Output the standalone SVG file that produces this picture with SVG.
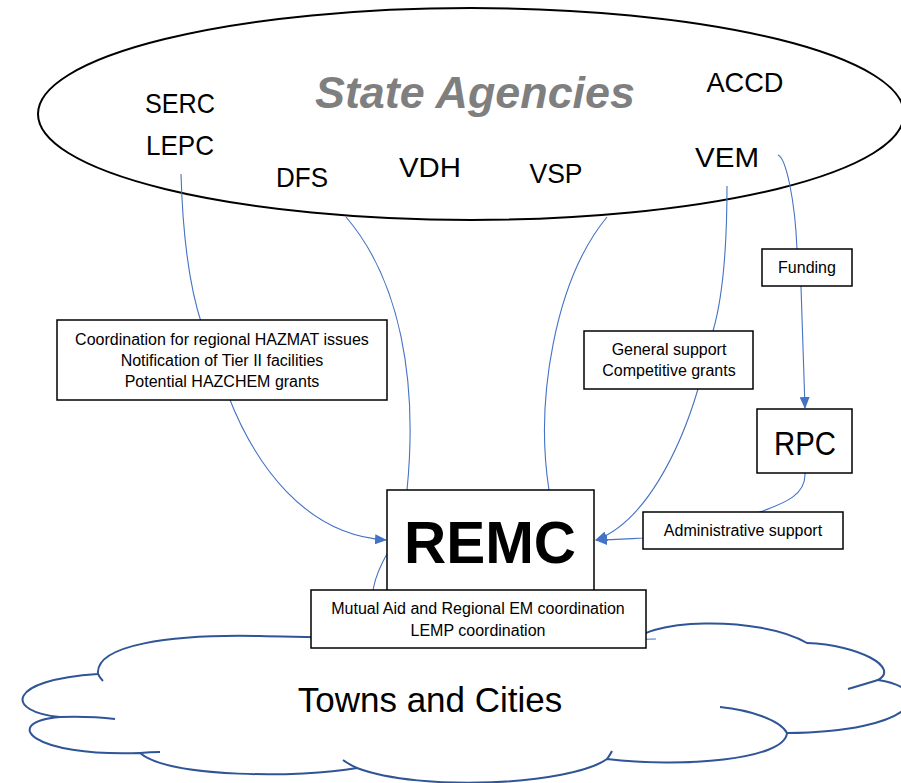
<svg xmlns="http://www.w3.org/2000/svg" width="901" height="783" viewBox="0 0 901 783">
<defs>
<marker id="arr" viewBox="0 0 12 10" refX="11" refY="5" markerWidth="12" markerHeight="10" markerUnits="userSpaceOnUse" orient="auto">
<path d="M0,0 L12,5 L0,10 Z" fill="#4472c4"/>
</marker>
<style>
.conn{fill:none;stroke:#4472c4;stroke-width:1.1}
.box{fill:#fff;stroke:#000;stroke-width:1.5}
.t{font-family:"Liberation Sans",Arial,sans-serif;fill:#000;text-anchor:middle}
.s{font-size:16px}
.lab{font-size:28px}
.cloud{fill:none;stroke:#2f5597;stroke-width:2}
</style>
</defs>
<rect width="901" height="783" fill="#fff"/>

<g id="state-agencies">
<ellipse cx="471" cy="114" rx="433" ry="106" fill="#fff" stroke="#000" stroke-width="2"/>
<text class="t" x="475" y="108" font-size="45" font-weight="bold" font-style="italic" style="fill:#7f7f7f" textLength="320" lengthAdjust="spacingAndGlyphs">State Agencies</text>
<text class="t lab" x="180" y="113" textLength="70" lengthAdjust="spacingAndGlyphs">SERC</text>
<text class="t lab" x="180" y="155" textLength="68" lengthAdjust="spacingAndGlyphs">LEPC</text>
<text class="t lab" x="302" y="187" textLength="52" lengthAdjust="spacingAndGlyphs">DFS</text>
<text class="t lab" x="430" y="177" textLength="62" lengthAdjust="spacingAndGlyphs">VDH</text>
<text class="t lab" x="556" y="183" textLength="53" lengthAdjust="spacingAndGlyphs">VSP</text>
<text class="t lab" x="745" y="92" textLength="77" lengthAdjust="spacingAndGlyphs">ACCD</text>
<text class="t lab" x="727" y="167" textLength="64" lengthAdjust="spacingAndGlyphs">VEM</text>
</g>

<g id="towns-and-cities">
<path fill="#fff" stroke="none" d="M60,717 C5,712 5,680 98,674 C95,645 170,634 260,636 C330,638 560,640 630,646 C640,618 760,615 807,643 C860,645 900,668 878,680 C940,690 915,732 787,733 C785,760 680,768 607,759 C570,785 420,792 357,768 C300,778 170,778 140,753 C30,757 0,722 60,717 Z"/>
<path class="cloud" d="M60,717 C5,712 5,680 98,674 C95,645 170,634 260,636 C330,638 560,640 630,646 C640,618 760,615 807,643 C860,645 900,668 878,680 C940,690 915,732 787,733 C785,760 680,768 607,759 C570,785 420,792 357,768 C300,778 170,778 140,753 C30,757 0,722 60,717 Z"/>
<path class="cloud" d="M98,674 Q100,678 103,681 M878,680 Q865,684 848,689 M720,707 C750,710 780,720 787,733 M607,759 Q610,755 612,751 M357,768 Q350,765 343,760 M140,753 Q150,752 160,752 M60,717 Q90,716 115,719"/>
<text class="t" x="430" y="712" font-size="35">Towns and Cities</text>
</g>

<g id="connectors">
<path class="conn" d="M181,174 C183,245 192,295 202,325 L228,395 C255,465 305,535 386,540" marker-end="url(#arr)"/>
<path class="conn" d="M346,217 C400,280 418,380 407,490"/>
<path class="conn" d="M607,217 C555,280 535,400 549,490"/>
<path class="conn" d="M727,186 C727,250 722,300 713,331 L698,389 C680,450 645,522 596,540" marker-end="url(#arr)"/>
<path class="conn" d="M778,155 C786,158 795,200 797,249 L801,287 L805,408" marker-end="url(#arr)"/>
<path class="conn" d="M805,473 C806,495 785,503 760,512 L660,535 L643,538 C625,539 612,540 596,540" marker-end="url(#arr)"/>
<path class="conn" d="M388,552 C375,575 365,600 380,625 C420,650 600,640 656,639"/>
</g>

<g id="hazmat-label">
<rect class="box" x="57" y="320" width="330" height="80"/>
<text class="t s" x="222" y="345">Coordination for regional HAZMAT issues</text>
<text class="t s" x="222" y="366">Notification of Tier II facilities</text>
<text class="t s" x="222" y="387">Potential HAZCHEM grants</text>
</g>

<g id="remc">
<rect class="box" x="387" y="490" width="207" height="104"/>
<text class="t" x="490" y="563" font-size="60" font-weight="bold" textLength="172" lengthAdjust="spacingAndGlyphs">REMC</text>
</g>

<g id="mutual-aid-label">
<rect class="box" x="311" y="590" width="335" height="58"/>
<text class="t s" x="478" y="614">Mutual Aid and Regional EM coordination</text>
<text class="t s" x="478" y="636">LEMP coordination</text>
</g>

<g id="general-support-label">
<rect class="box" x="584" y="331" width="169" height="58"/>
<text class="t s" x="669" y="355">General support</text>
<text class="t s" x="669" y="376">Competitive grants</text>
</g>

<g id="funding-label">
<rect class="box" x="762" y="249" width="90" height="37"/>
<text class="t s" x="807" y="273">Funding</text>
</g>

<g id="rpc">
<rect class="box" x="757" y="409" width="95" height="64"/>
<text class="t" x="805" y="455" font-size="33" textLength="62" lengthAdjust="spacingAndGlyphs">RPC</text>
</g>

<g id="admin-support-label">
<rect class="box" x="643" y="512" width="200" height="37"/>
<text class="t s" x="743" y="536">Administrative support</text>
</g>
</svg>
